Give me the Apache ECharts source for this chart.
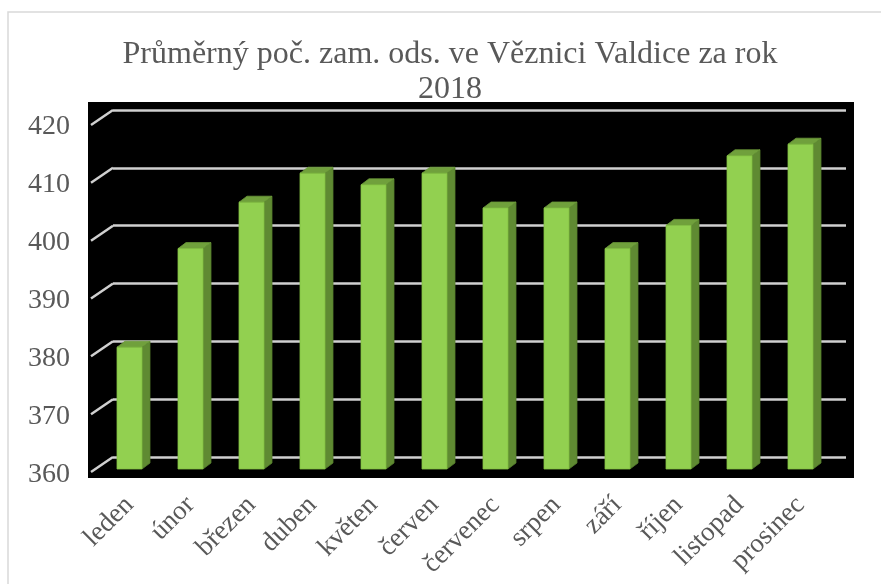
<!DOCTYPE html>
<html>
<head>
<meta charset="utf-8">
<script src="https://cdn.jsdelivr.net/npm/echarts@6/dist/echarts.min.js"></script>
<style>
html,body{margin:0;padding:0;background:#fff;}
#c{width:881px;height:584px;}
</style>
</head>
<body>
<div id="c"></div>
<script>
const titleText = 'Průměrný poč. zam. ods. ve Věznici Valdice za rok\n2018';
const categories = ['leden','únor','březen','duben','květen','červen','červenec','srpen','září','říjen','listopad','prosinec'];
const values = [381, 398, 406, 411, 409, 411, 405, 405, 398, 402, 414, 416];
const yTicks = [360, 370, 380, 390, 400, 410, 420];

const FONT = '"Liberation Serif", "Times New Roman", serif';
const TXT = '#595959';
const yMin = yTicks[0], yMax = yTicks[yTicks.length - 1], yStep = yTicks[1] - yTicks[0];

const chart = echarts.init(document.getElementById('c'), null, {renderer: 'canvas'});

const option = {
  backgroundColor: '#ffffff',
  animation: false,
  title: {
    text: titleText,
    left: 450,
    textAlign: 'center',
    top: 37,
    padding: 0,
    textStyle: {fontFamily: FONT, fontSize: 32, fontWeight: 'normal', color: TXT, lineHeight: 35}
  },
  graphic: [
    {type: 'rect', shape: {x: 8, y: 12, width: 1000, height: 1000}, style: {fill: 'none', stroke: '#d9d9d9', lineWidth: 1.5}, z: -10}
  ],
  grid: [
    {left: 88, top: 102, width: 766, height: 376, show: true, backgroundColor: '#000000', borderWidth: 0},
    {left: 113, top: 110, width: 733, height: 347},
    {left: 99, top: 121, width: 732, height: 348},
    {left: 88, top: 127, width: 766, height: 348}
  ],
  xAxis: [
    {gridIndex: 0, type: 'value', min: 0, max: 1, show: false},
    {gridIndex: 1, type: 'value', min: 0, max: 1, show: false},
    {gridIndex: 2, type: 'category', data: categories,
      axisLine: {show: false}, axisTick: {show: false},
      axisLabel: {rotate: 45, margin: 32, fontFamily: FONT, fontSize: 27, color: TXT, interval: 0}},
    {gridIndex: 3, type: 'value', min: 0, max: 1, show: false}
  ],
  yAxis: [
    {gridIndex: 0, type: 'value', min: 0, max: 1, show: false},
    {gridIndex: 1, type: 'value', min: yMin, max: yMax, interval: yStep,
      axisLine: {show: false}, axisTick: {show: false}, axisLabel: {show: false},
      splitLine: {show: true, lineStyle: {color: '#d0d0d0', width: 2.5}}},
    {gridIndex: 2, type: 'value', min: yMin, max: yMax, interval: yStep, show: false, splitLine: {show: false}},
    {gridIndex: 3, type: 'value', min: yMin, max: yMax, interval: yStep,
      axisLine: {show: false}, axisTick: {show: false}, splitLine: {show: false},
      axisLabel: {margin: 18, fontFamily: FONT, fontSize: 28, color: TXT}}
  ],
  series: [
    {
      type: 'custom', xAxisIndex: 1, yAxisIndex: 1, silent: true,
      data: yTicks.map(v => [0, v]),
      renderItem: function (params, api) {
        const p = api.coord([0, api.value(1)]);
        return {type: 'line', shape: {x1: p[0] - 22, y1: p[1] + 15, x2: p[0], y2: p[1]},
          style: {stroke: '#d0d0d0', lineWidth: 2.5}};
      },
      z: 2
    },
    {
      type: 'custom', xAxisIndex: 2, yAxisIndex: 2, silent: true,
      data: values.map((v, i) => [i, v]),
      renderItem: function (params, api) {
        const top = api.coord([api.value(0), api.value(1)]);
        const bot = api.coord([api.value(0), yMin]);
        const w = 25, dx = 8, dy = -6;
        const x0 = top[0] - w / 2, x1 = top[0] + w / 2;
        return {
          type: 'group',
          children: [
            {type: 'polygon', shape: {points: [[x1, top[1]], [x1 + dx, top[1] + dy], [x1 + dx, bot[1] + dy], [x1, bot[1]]]},
              style: {fill: '#5f8a32', stroke: '#557d2c', lineWidth: 0.8}},
            {type: 'polygon', shape: {points: [[x0, top[1]], [x0 + dx, top[1] + dy], [x1 + dx, top[1] + dy], [x1, top[1]]]},
              style: {fill: '#70a03c', stroke: '#6a9838', lineWidth: 0.8}},
            {type: 'rect', shape: {x: x0, y: top[1], width: w, height: bot[1] - top[1]},
              style: {fill: '#92d050', stroke: '#84c043', lineWidth: 0.8}}
          ]
        };
      },
      z: 3
    }
  ]
};
chart.setOption(option);
</script>
</body>
</html>
